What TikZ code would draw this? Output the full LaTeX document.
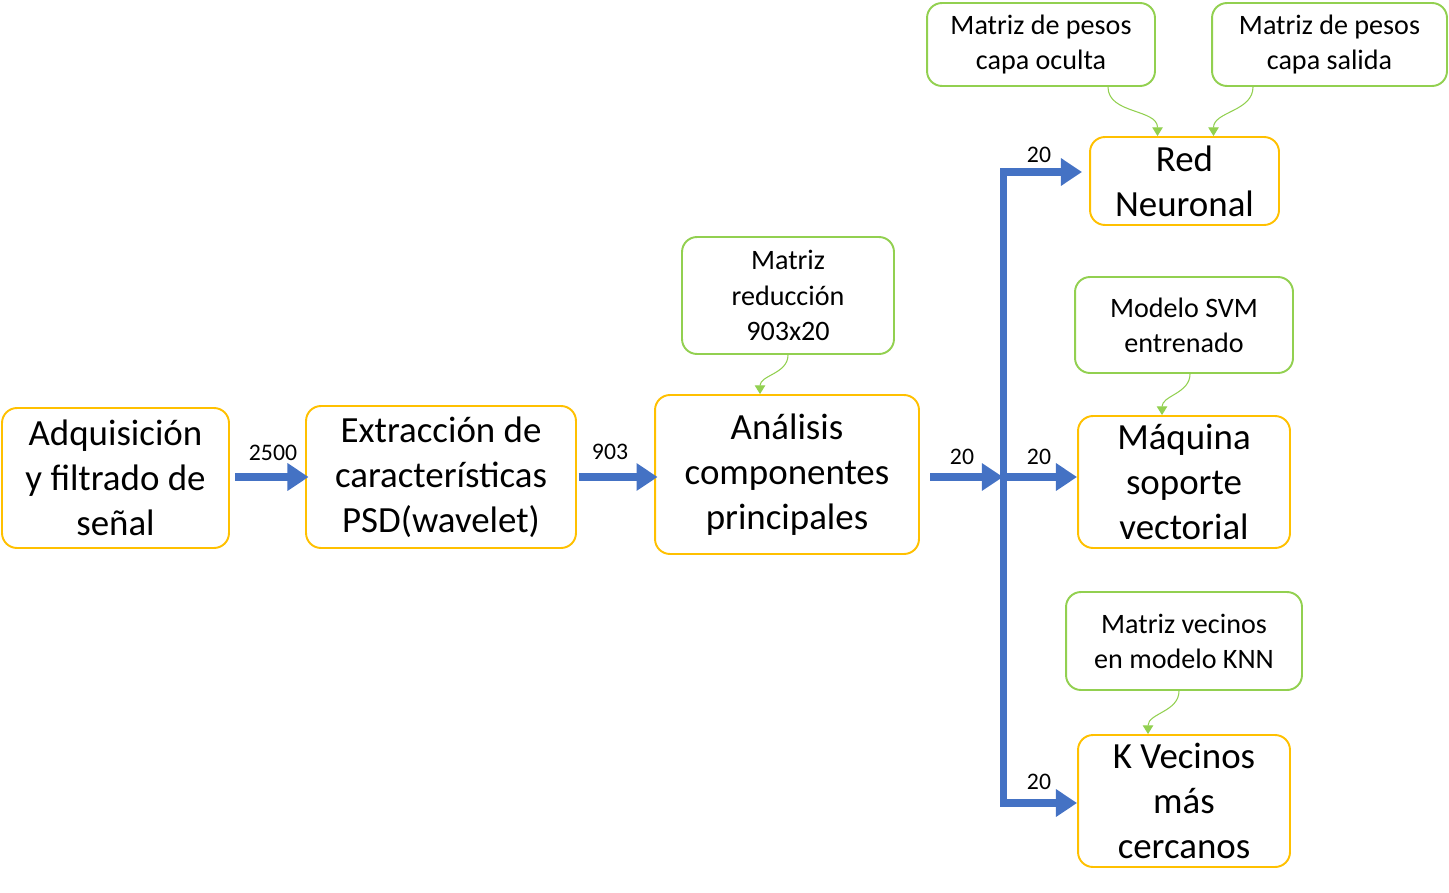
\documentclass[tikz,border=0pt]{standalone}
\usepackage{fontspec}
\setmainfont{Carlito}
\usepackage{tikz}
\usetikzlibrary{arrows.meta, shapes}
\definecolor{naranja}{HTML}{FFC000}
\definecolor{verde}{HTML}{92D050}
\definecolor{azul}{HTML}{4472C4}
\tikzstyle{bloque} = [rectangle, rounded corners=8.5pt, draw=naranja, line width=1.1pt, align=center, font=\fontsize{21}{25.5}\selectfont, inner sep=0pt]
\tikzstyle{dato} = [rectangle, rounded corners=8.5pt, draw=verde, line width=1.1pt, align=center, font=\fontsize{16}{20}\selectfont, inner sep=0pt]
\tikzstyle{flecha} = [draw=azul, line width=4pt, -{Triangle[length=12pt, width=15pt]}]
\tikzstyle{curva} = [draw=verde, line width=0.6pt, -{Triangle[length=5pt, width=6pt]}]
\tikzstyle{etiqueta} = [font=\fontsize{13.5}{16}\selectfont]

\begin{document}
\begin{tikzpicture}[x=0.02cm, y=-0.02cm]
	\useasboundingbox (0,0) rectangle (1449,892);

	% bloques principales
	\node[bloque, minimum width=4.54cm, minimum height=2.8cm] (adq) at (115.5,478) {Adquisición\\y filtrado de\\señal};
	\node[bloque, minimum width=5.4cm, minimum height=2.84cm] (ext) at (441,477) {Extracción de\\características\\PSD(wavelet)};
	\node[bloque, minimum width=5.28cm, minimum height=3.18cm] (acp) at (787,474.5) {Análisis\\componentes\\principales};
	\node[bloque, minimum width=3.78cm, minimum height=1.76cm] (red) at (1184.5,181) {Red\\Neuronal};
	\node[bloque, minimum width=4.24cm, minimum height=2.64cm] (svm) at (1184,482) {Máquina\\soporte\\vectorial};
	\node[bloque, minimum width=4.24cm, minimum height=2.64cm] (knn) at (1184,801) {K Vecinos\\más\\cercanos};

	% matrices
	\node[dato, minimum width=4.56cm, minimum height=1.66cm] (mpo) at (1041,44.5) {Matriz de pesos\\capa oculta};
	\node[dato, minimum width=4.7cm, minimum height=1.66cm] (mps) at (1329.5,44.5) {Matriz de pesos\\capa salida};
	\node[dato, minimum width=4.24cm, minimum height=2.34cm] (mr) at (788,295.5) {Matriz\\reducción\\903x20};
	\node[dato, minimum width=4.36cm, minimum height=1.92cm] (msvm) at (1184,325) {Modelo SVM\\entrenado};
	\node[dato, minimum width=4.72cm, minimum height=1.96cm] (mknn) at (1184,641) {Matriz vecinos\\en modelo KNN};

	% Labels
	\node[etiqueta] (l1) at (273,453) {2500};
	\node[etiqueta] (l2) at (610,452) {903};
	\node[etiqueta] (l3) at (962,457) {20};
	\node[etiqueta] (l4) at (1039,457) {20};
	\node[etiqueta] (l5) at (1039,155) {20};
	\node[etiqueta] (l6) at (1039,782) {20};

	% flechas
	\coordinate (j) at (1003,477);
	\coordinate (jt) at (1003,172);
	\coordinate (jb) at (1003,803);
	\draw[flecha, shorten <=3pt, shorten >=-2pt] (adq.east |- ext.west) -- (ext.west);
	\draw[flecha, shorten <=1pt, shorten >=-2pt] (ext.east) -- (ext.east -| acp.west);
	\draw[flecha, shorten <=6pt] (acp.east |- j) -- (j);
	\draw[flecha] (j) -- (j -| svm.west);
	\draw[flecha, shorten >=4pt] (jb) -- (jt) -- (jt -| red.west);
	\draw[flecha] (jt) -- (jb) -- (jb -| knn.west);

	\draw[curva] ([xshift=1.34cm]mpo.south) to[out=-90, in=90] ([xshift=-0.54cm]red.north);
	\draw[curva] ([xshift=-1.53cm]mps.south) to[out=-90, in=90] ([xshift=0.58cm]red.north);
	\draw[curva] (mr.south) to[out=-90, in=90] ([xshift=-0.54cm]acp.north);
	\draw[curva] ([xshift=0.12cm]msvm.south) to[out=-90, in=90] ([xshift=-0.44cm]svm.north);
	\draw[curva] ([xshift=-0.1cm]mknn.south) to[out=-90, in=90] ([xshift=-0.72cm]knn.north);
\end{tikzpicture}
\end{document}
